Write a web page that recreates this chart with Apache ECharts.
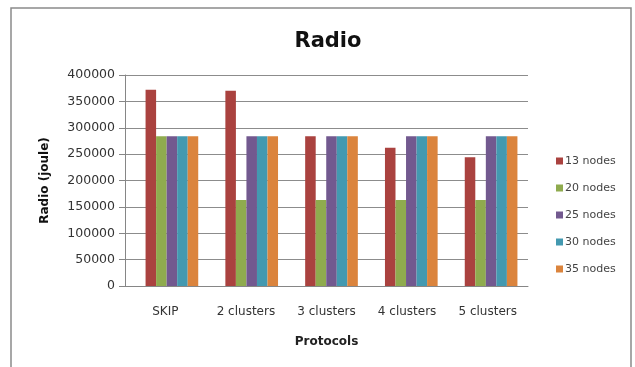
<!DOCTYPE html>
<html>
<head>
<meta charset="utf-8">
<script src="https://cdn.jsdelivr.net/npm/echarts@6/dist/echarts.min.js"></script>
<style>
  html, body { margin: 0; padding: 0; background: #ffffff; }
  #chart { width: 635px; height: 367px; }
</style>
</head>
<body>
<div id="chart"></div>
<script>
// Energy consumed by the radio per protocol, one series per network size
const categories = ['SKIP', '2 clusters', '3 clusters', '4 clusters', '5 clusters'];
const seriesNames = ['13 nodes', '20 nodes', '25 nodes', '30 nodes', '35 nodes'];
const nodes13 = [372000, 370000, 284000, 262000, 244000];
const nodes20 = [284000, 163000, 163000, 163000, 163000];
const nodes25 = [284000, 284000, 284000, 284000, 284000];
const nodes30 = [284000, 284000, 284000, 284000, 284000];
const nodes35 = [284000, 284000, 284000, 284000, 284000];
const yTicks = [0, 50000, 100000, 150000, 200000, 250000, 300000, 350000, 400000];

const values = [nodes13, nodes20, nodes25, nodes30, nodes35];
const colors = ['#AA423F', '#8FAB4E', '#72598F', '#4399B0', '#DB843D'];
const font = 'DejaVu Sans';
const yMin = yTicks[0];
const yMax = yTicks[yTicks.length - 1];
const yStep = yTicks[1] - yTicks[0];

const chart = echarts.init(document.getElementById('chart'), null, { renderer: 'canvas' });

chart.setOption({
  animation: false,
  backgroundColor: '#ffffff',
  color: colors,
  graphic: [{
    type: 'rect',
    shape: { x: 11, y: 8, width: 620, height: 380 },
    style: { fill: 'none', stroke: '#8a8a8a', lineWidth: 1.5 },
    z: 0
  }],
  title: {
    text: 'Radio',
    left: 323,
    top: 26,
    textAlign: 'center',
    textStyle: { fontFamily: font, fontSize: 21, fontWeight: 'bold', color: '#111111' }
  },
  legend: {
    orient: 'vertical',
    left: 551,
    top: 150,
    itemWidth: 7,
    itemHeight: 7,
    itemGap: 15,
    icon: 'rect',
    textStyle: { fontFamily: font, fontSize: 11, color: '#444444', lineHeight: 12, padding: [0, 0, 0, -3] },
    data: seriesNames
  },
  grid: [
    // axes, gridlines and labels
    { left: 125, right: 107, top: 75, bottom: 81 },
    // bar area, slightly shifted to the right of the category labels
    { left: 132, right: 104, top: 75, bottom: 81 }
  ],
  xAxis: [{
    type: 'category',
    gridIndex: 0,
    data: categories,
    name: 'Protocols',
    nameLocation: 'middle',
    nameGap: 50,
    nameTextStyle: { fontFamily: font, fontSize: 12, fontWeight: 'bold', color: '#222222' },
    axisLine: { lineStyle: { color: '#868686' } },
    axisTick: { show: false },
    axisLabel: { fontFamily: font, fontSize: 12, color: '#333333', margin: 20 }
  }, {
    type: 'category',
    gridIndex: 1,
    data: categories,
    show: false
  }],
  yAxis: [{
    type: 'value',
    gridIndex: 0,
    min: yMin,
    max: yMax,
    interval: yStep,
    name: 'Radio (joule)',
    nameLocation: 'middle',
    nameGap: 74,
    nameTextStyle: { fontFamily: font, fontSize: 12, fontWeight: 'bold', color: '#111111' },
    axisLine: { show: true, lineStyle: { color: '#868686' } },
    axisTick: { show: true, inside: false, length: 6, lineStyle: { color: '#868686' } },
    axisLabel: { fontFamily: font, fontSize: 12.5, color: '#333333', margin: 10, formatter: v => String(v) },
    splitLine: { lineStyle: { color: '#8c8c8c' } }
  }, {
    type: 'value',
    gridIndex: 1,
    min: yMin,
    max: yMax,
    interval: yStep,
    show: false,
    splitLine: { show: false }
  }],
  series: seriesNames.map((name, i) => ({
    name: name,
    type: 'bar',
    xAxisIndex: 1,
    yAxisIndex: 1,
    data: values[i],
    barGap: '0%',
    barCategoryGap: '34%',
    itemStyle: { color: colors[i] }
  }))
});
</script>
</body>
</html>
